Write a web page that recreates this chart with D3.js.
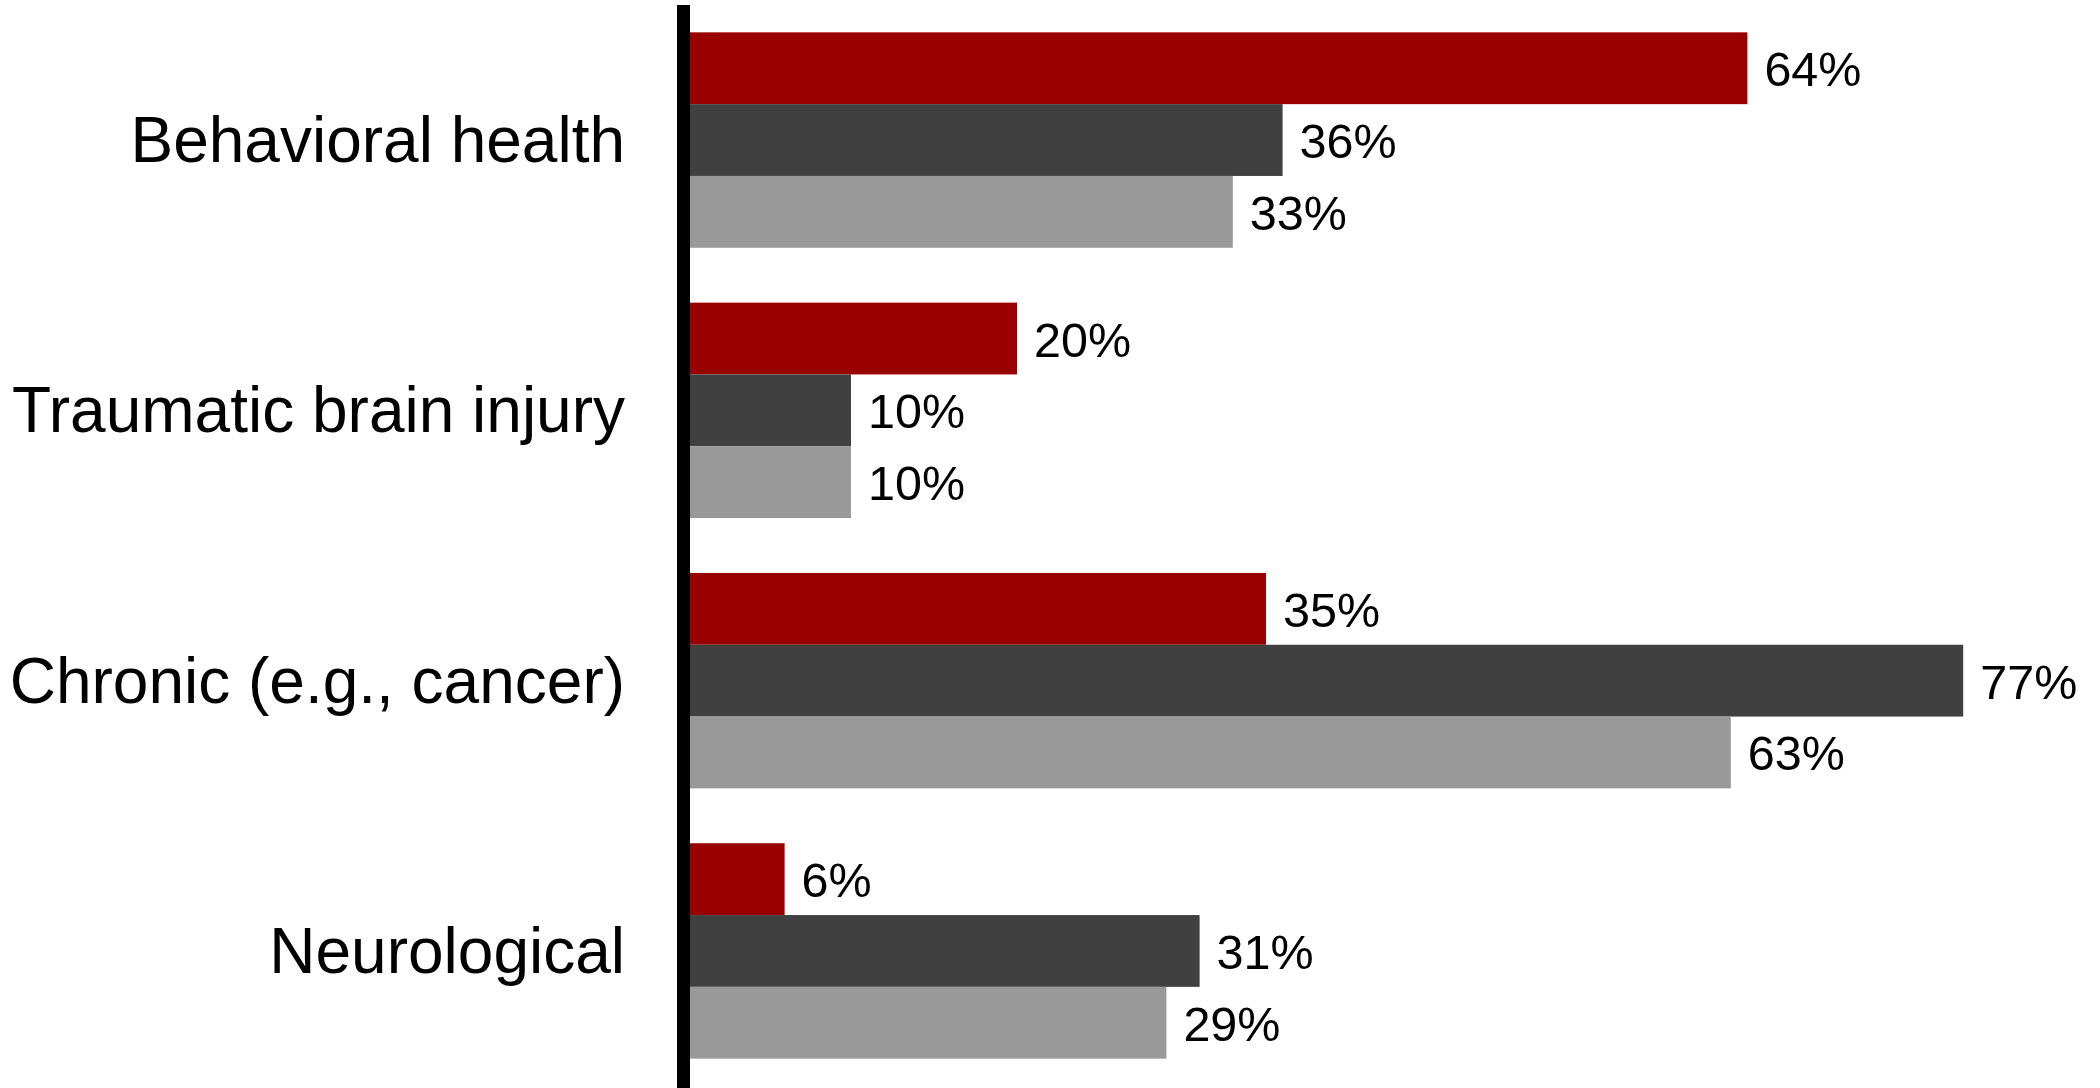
<!DOCTYPE html>
<html>
<head>
<meta charset="utf-8">
<script src="https://cdn.jsdelivr.net/npm/d3@7"></script>
<style>
	body { margin: 0; background: #ffffff; }
	text { font-family: "Liberation Sans", Arial, sans-serif; fill: #000000; }
</style>
</head>
<body>
<div id="canvas"></div>
<script>
var categories = ["Behavioral health", "Traumatic brain injury", "Chronic (e.g., cancer)", "Neurological"];
var seriesNames = ["Series 1", "Series 2", "Series 3"];
var series1 = [64, 20, 35, 6];
var series2 = [36, 10, 77, 31];
var series3 = [33, 10, 63, 29];
var colors = ["#990000", "#404040", "#999999"];

var w = 2100, h = 1088;

var svg = d3.select("#canvas")
	.append("svg")
	.attr("width", w)
	.attr("height", h);

var rows = categories.map(function(c, i){
	return { category: c, values: [series1[i], series2[i], series3[i]] };
});

// zero sits just behind the thick axis line
var xScale = d3.scaleLinear()
	.domain([0, 85])
	.range([685, 685 + 16.6 * 85]);

var yScale = d3.scaleBand()
	.domain(categories)
	.range([4.9, 1086.1])
	.paddingInner(0.203)
	.paddingOuter(0.1015);

var ySub = d3.scaleBand()
	.domain(seriesNames)
	.range([0, yScale.bandwidth()]);

var groups = svg.selectAll(".group")
	.data(rows)
	.enter()
	.append("g")
	.attr("class", "group")
	.attr("transform", function(d){ return "translate(0," + yScale(d.category) + ")"; });

groups.each(function(d){
	var g = d3.select(this);
	var vals = d.values.map(function(v, i){ return { name: seriesNames[i], value: v, color: colors[i] }; });

	g.selectAll("rect")
		.data(vals)
		.enter()
		.append("rect")
		.attr("x", xScale(0))
		.attr("y", function(v){ return ySub(v.name); })
		.attr("width", function(v){ return xScale(v.value) - xScale(0); })
		.attr("height", ySub.bandwidth())
		.attr("fill", function(v){ return v.color; });

	g.selectAll(".valueLabel")
		.data(vals)
		.enter()
		.append("text")
		.attr("class", "valueLabel")
		.attr("x", function(v){ return xScale(v.value) + 17; })
		.attr("y", function(v){ return ySub(v.name) + ySub.bandwidth() / 2 + 18; })
		.attr("font-size", 48.5)
		.text(function(v){ return v.value + "%"; });

	g.append("text")
		.attr("class", "catLabel")
		.attr("x", 625)
		.attr("y", yScale.bandwidth() / 2 + 22)
		.attr("text-anchor", "end")
		.attr("font-size", 64)
		.text(d.category);
});

// vertical axis line
svg.append("line")
	.attr("x1", 683.5)
	.attr("x2", 683.5)
	.attr("y1", 5)
	.attr("y2", h)
	.attr("stroke", "#000000")
	.attr("stroke-width", 13);
</script>
</body>
</html>
